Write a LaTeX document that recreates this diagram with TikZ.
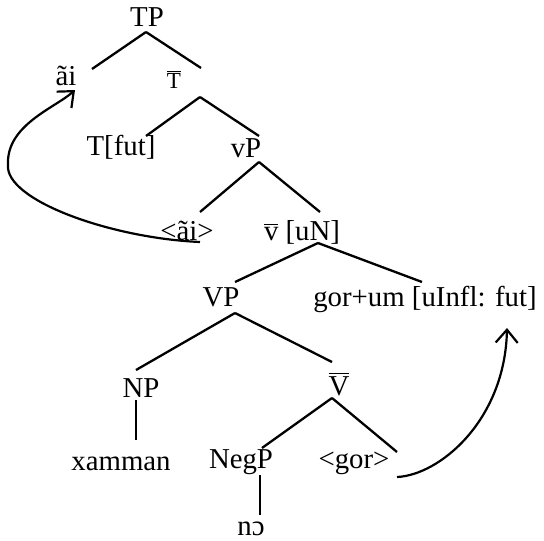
\documentclass[tikz,border=0pt]{standalone}
\usepackage{fontspec}
\setmainfont{Liberation Serif}
\usetikzlibrary{calc,arrows.meta}
\begin{document}
\begin{tikzpicture}[x=0.5pt,y=-0.5pt,
  every node/.style={anchor=base,inner sep=0pt,font=\fontsize{14.4}{17}\selectfont},
  branch/.style={line width=1.15pt},
  move/.style={line width=1.1pt,-{Straight Barb[length=6.5pt,width=11pt,line width=1.1pt]}}]
\useasboundingbox (0,0) rectangle (544,540);
% labels, placed by baseline centre
\node (TP)   at (147,27)  {TP};
\node (ai)   at (66,85)   {ãi};
\node (Tbar) at (174,89)  {$\overline{\mbox{\fontsize{11.5}{12}\selectfont T}}$};
\node (Tfut) at (121,155) {T[fut]};
\node (vP)   at (246,157) {vP};
\node (aitr) at (187,240) {<ãi>};
\node (vbar) at (302,240) {$\overline{\mbox{v}}$ [uN]};
\node (VP)   at (221,306) {VP};
\node (gor)  at (425,306) {gor+um [uInfl: fut]};
\node (NP)   at (141,397) {NP};
\node (Vbar) at (339,395) {$\overline{\mbox{V}}$};
\node (xam)  at (121,470) {xamman};
\node (NegP) at (241,468) {NegP};
\node (gortr) at (354,468) {<gor>};
\node (no)   at (251,535) {nɔ};
% branches
\draw[branch] ($(TP.base)+(-1,5)$) -- ($(ai.base)+(26,-16)$);
\draw[branch] ($(TP.base)+(-1,5)$) -- ($(Tbar.base)+(27,-21)$);
\draw[branch] ($(Tbar.base)+(26,8)$) -- ($(Tfut.base)+(25,-19)$);
\draw[branch] ($(Tbar.base)+(26,8)$) -- ($(vP.base)+(13,-21)$);
\draw[branch] ($(vP.base)+(13,5)$) -- ($(aitr.base)+(13,-28)$);
\draw[branch] ($(vP.base)+(13,5)$) -- ($(vbar.base)+(18,-28)$);
\draw[branch] ($(vbar.base)+(16,3)$) -- ($(VP.base)+(14,-24)$);
\draw[branch] ($(vbar.base)+(16,3)$) -- ($(gor.base)+(-3,-24)$);
\draw[branch] ($(VP.base)+(14,7)$) -- ($(NP.base)+(-5,-27)$);
\draw[branch] ($(VP.base)+(14,7)$) -- ($(Vbar.base)+(-7,-33)$);
\draw[branch] ($(NP.base)+(-5,3)$) -- ($(xam.base)+(15,-30)$);
\draw[branch] ($(Vbar.base)+(-7,3)$) -- ($(NegP.base)+(21,-20)$);
\draw[branch] ($(Vbar.base)+(-7,3)$) -- ($(gortr.base)+(43,-16)$);
\draw[branch] ($(NegP.base)+(19,7)$) -- ($(no.base)+(9,-20)$);
% movement arrows
\draw[move] ($(aitr.base)+(13,2)$) .. controls (110,238) and (5,200) .. (8,165)
  .. controls (6,125) and (55,108) .. ($(ai.base)+(9,5)$);
\draw[move] ($(gortr.base)+(43,9)$) .. controls (440,475) and (505,420) .. ($(gor.base)+(82,22)$);
\end{tikzpicture}
\end{document}
